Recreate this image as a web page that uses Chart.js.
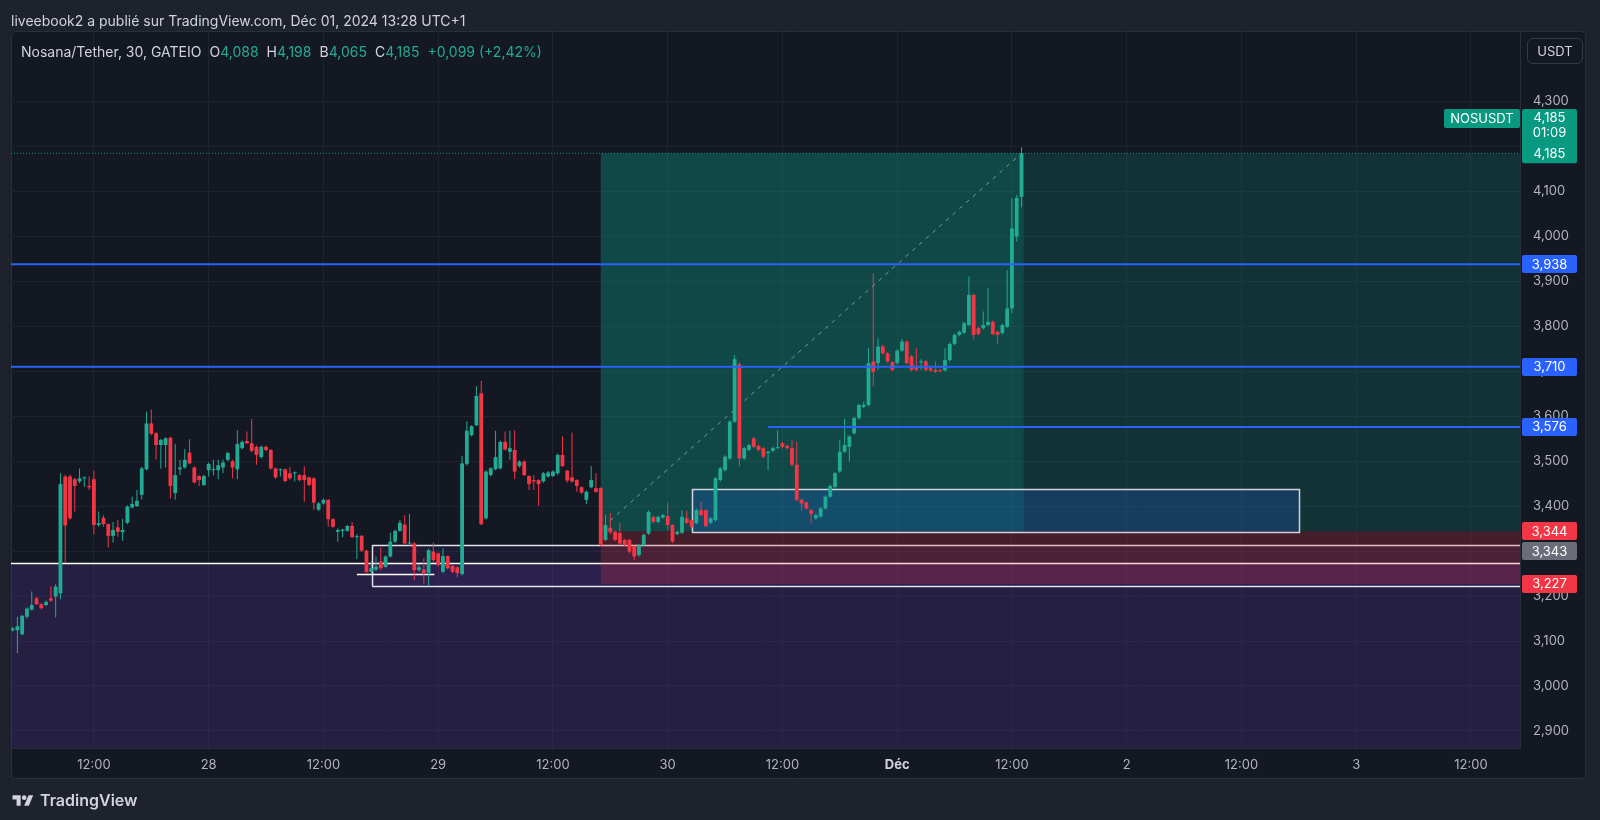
<!DOCTYPE html>
<html lang="fr">
<head>
<meta charset="utf-8">
<title>Nosana/Tether, 30, GATEIO</title>
<script src="https://cdn.jsdelivr.net/npm/chart.js@4.4.1/dist/chart.umd.min.js"></script>
<style>
  html, body { margin: 0; padding: 0; background: #1e222d; }
  body { width: 1600px; height: 820px; position: relative; overflow: hidden;
         font-family: Inter, "Noto Sans", sans-serif; }
  #chart { position: absolute; left: 0; top: 0; }
  .title { position: absolute; left: 11px; top: 12px; font-size: 14px; color: #d1d4dc; white-space: nowrap; }
  .legend { position: absolute; left: 21px; top: 43px; font-size: 14px; color: #d1d4dc; white-space: nowrap; }
  .legend .g { color: #22ab94; }
  .legend .k { margin-left: 8px; }
  .usdt { position: absolute; left: 1527px; top: 38px; width: 56px; height: 26px; box-sizing: border-box;
          border: 1px solid #363a45; border-radius: 6px; color: #d1d4dc; font-size: 13px;
          line-height: 24px; text-align: center; }
  .footer { position: absolute; left: 12px; top: 790px; color: #d1d4dc; font-size: 16px; font-weight: 600;
            display: flex; align-items: center; gap: 6px; }
</style>
</head>
<body>
<canvas id="chart" width="1600" height="820"></canvas>
<div class="title">liveebook2 a publié sur TradingView.com, Déc 01, 2024 13:28 UTC+1</div>
<div class="legend" id="legend"></div>
<div class="usdt">USDT</div>
<div class="footer">
  <svg width="22" height="14" viewBox="0 0 36 24"><path d="M14 22H7V11H0V4h14z" fill="#d1d4dc"/><circle cx="20" cy="8" r="4" fill="#d1d4dc"/><path d="M28 22h-8l7.5-18h8z" fill="#d1d4dc"/></svg>
  <span>TradingView</span>
</div>
<script>
// bougies de 30 min, temps en heures depuis le 27 nov 00:00 (UTC+1)
const START_HOUR = 3.5;

const opens = [
  3.124, 3.124, 3.115, 3.154, 3.170, 3.195, 3.182, 3.180, 3.195, 3.199,
  3.206, 3.466, 3.466, 3.460, 3.455, 3.462, 3.445, 3.460, 3.358, 3.374,
  3.360, 3.334, 3.353, 3.342, 3.363, 3.397, 3.400, 3.425, 3.482, 3.584,
  3.562, 3.536, 3.536, 3.552, 3.429, 3.482, 3.486, 3.519, 3.486, 3.467,
  3.447, 3.480, 3.480, 3.480, 3.486, 3.503, 3.500, 3.482, 3.529, 3.545,
  3.540, 3.532, 3.509, 3.532, 3.525, 3.484, 3.480, 3.482, 3.473, 3.473,
  3.469, 3.469, 3.464, 3.462, 3.392, 3.406, 3.414, 3.371, 3.343, 3.345,
  3.345, 3.356, 3.331, 3.334, 3.301, 3.254, 3.259, 3.277, 3.265, 3.288,
  3.321, 3.345, 3.359, 3.317, 3.317, 3.258, 3.259, 3.252, 3.299, 3.295,
  3.254, 3.289, 3.267, 3.264, 3.249, 3.494, 3.558, 3.580, 3.651, 3.373,
  3.469, 3.482, 3.484, 3.543, 3.521, 3.525, 3.489, 3.499, 3.467, 3.458,
  3.458, 3.455, 3.466, 3.467, 3.473, 3.514, 3.479, 3.464, 3.458, 3.442,
  3.414, 3.442, 3.440, 3.440, 3.325, 3.352, 3.343, 3.340, 3.325, 3.325,
  3.311, 3.291, 3.313, 3.339, 3.376, 3.365, 3.375, 3.378, 3.358, 3.338,
  3.341, 3.373, 3.369, 3.362, 3.391, 3.391, 3.363, 3.369, 3.458, 3.480,
  3.506, 3.588, 3.716, 3.506, 3.525, 3.551, 3.534, 3.529, 3.518, 3.523,
  3.529, 3.540, 3.534, 3.529, 3.492, 3.414, 3.408, 3.391, 3.373, 3.377,
  3.395, 3.421, 3.443, 3.477, 3.521, 3.532, 3.562, 3.596, 3.621, 3.625,
  3.722, 3.718, 3.755, 3.740, 3.720, 3.718, 3.746, 3.766, 3.733, 3.710,
  3.720, 3.722, 3.707, 3.703, 3.702, 3.702, 3.725, 3.761, 3.781, 3.786,
  3.803, 3.870, 3.796, 3.796, 3.803, 3.810, 3.788, 3.785, 3.799, 3.840,
  4.000, 4.088
];
const highs = [
  3.131, 3.154, 3.158, 3.175, 3.210, 3.198, 3.184, 3.190, 3.222, 3.226,
  3.473, 3.470, 3.470, 3.463, 3.484, 3.466, 3.466, 3.479, 3.388, 3.380,
  3.362, 3.365, 3.369, 3.372, 3.402, 3.421, 3.436, 3.487, 3.610, 3.615,
  3.565, 3.550, 3.553, 3.555, 3.538, 3.503, 3.527, 3.549, 3.488, 3.469,
  3.470, 3.497, 3.503, 3.503, 3.504, 3.521, 3.503, 3.569, 3.546, 3.566,
  3.594, 3.535, 3.535, 3.535, 3.527, 3.486, 3.484, 3.484, 3.487, 3.477,
  3.471, 3.489, 3.466, 3.464, 3.409, 3.417, 3.416, 3.373, 3.351, 3.350,
  3.358, 3.365, 3.338, 3.336, 3.303, 3.277, 3.288, 3.308, 3.290, 3.341,
  3.348, 3.369, 3.380, 3.383, 3.320, 3.269, 3.284, 3.306, 3.319, 3.297,
  3.306, 3.291, 3.269, 3.266, 3.512, 3.589, 3.580, 3.667, 3.679, 3.480,
  3.487, 3.568, 3.546, 3.566, 3.568, 3.569, 3.502, 3.502, 3.469, 3.469,
  3.460, 3.476, 3.478, 3.480, 3.517, 3.555, 3.481, 3.564, 3.460, 3.444,
  3.435, 3.489, 3.473, 3.442, 3.380, 3.385, 3.346, 3.362, 3.327, 3.327,
  3.313, 3.316, 3.339, 3.391, 3.379, 3.379, 3.383, 3.408, 3.360, 3.346,
  3.391, 3.390, 3.371, 3.394, 3.410, 3.393, 3.376, 3.465, 3.487, 3.513,
  3.591, 3.736, 3.720, 3.532, 3.539, 3.554, 3.537, 3.532, 3.524, 3.532,
  3.569, 3.543, 3.537, 3.547, 3.543, 3.417, 3.410, 3.394, 3.383, 3.398,
  3.424, 3.448, 3.476, 3.547, 3.595, 3.558, 3.599, 3.628, 3.633, 3.751,
  3.918, 3.773, 3.759, 3.743, 3.723, 3.749, 3.772, 3.769, 3.736, 3.751,
  3.727, 3.725, 3.710, 3.722, 3.704, 3.751, 3.764, 3.784, 3.791, 3.810,
  3.911, 3.873, 3.799, 3.833, 3.885, 3.813, 3.791, 3.806, 3.925, 4.085,
  4.092, 4.198
];
const lows = [
  3.121, 3.073, 3.112, 3.150, 3.168, 3.180, 3.170, 3.178, 3.187, 3.153,
  3.193, 3.274, 3.370, 3.388, 3.451, 3.443, 3.436, 3.338, 3.354, 3.354,
  3.308, 3.319, 3.332, 3.323, 3.360, 3.395, 3.398, 3.415, 3.480, 3.558,
  3.504, 3.484, 3.486, 3.417, 3.414, 3.469, 3.484, 3.493, 3.450, 3.445,
  3.445, 3.466, 3.469, 3.460, 3.473, 3.500, 3.462, 3.460, 3.526, 3.538,
  3.520, 3.492, 3.506, 3.522, 3.481, 3.461, 3.466, 3.453, 3.459, 3.455,
  3.455, 3.410, 3.444, 3.392, 3.389, 3.403, 3.354, 3.352, 3.321, 3.331,
  3.343, 3.329, 3.282, 3.298, 3.251, 3.251, 3.256, 3.258, 3.262, 3.286,
  3.318, 3.343, 3.315, 3.312, 3.236, 3.254, 3.228, 3.222, 3.273, 3.266,
  3.251, 3.259, 3.251, 3.242, 3.246, 3.490, 3.555, 3.578, 3.358, 3.370,
  3.466, 3.480, 3.482, 3.524, 3.503, 3.460, 3.486, 3.467, 3.436, 3.436,
  3.401, 3.452, 3.463, 3.465, 3.470, 3.487, 3.452, 3.452, 3.432, 3.427,
  3.405, 3.440, 3.430, 3.310, 3.322, 3.338, 3.322, 3.314, 3.311, 3.296,
  3.280, 3.288, 3.310, 3.336, 3.362, 3.362, 3.372, 3.347, 3.318, 3.335,
  3.338, 3.360, 3.350, 3.360, 3.378, 3.353, 3.360, 3.366, 3.455, 3.477,
  3.503, 3.585, 3.489, 3.503, 3.522, 3.529, 3.522, 3.507, 3.480, 3.520,
  3.527, 3.529, 3.526, 3.489, 3.411, 3.390, 3.392, 3.362, 3.370, 3.374,
  3.392, 3.418, 3.440, 3.474, 3.518, 3.499, 3.559, 3.593, 3.618, 3.622,
  3.666, 3.703, 3.737, 3.719, 3.700, 3.715, 3.743, 3.715, 3.700, 3.700,
  3.703, 3.700, 3.699, 3.697, 3.698, 3.699, 3.722, 3.758, 3.778, 3.783,
  3.800, 3.771, 3.780, 3.793, 3.800, 3.780, 3.762, 3.782, 3.796, 3.829,
  3.989, 4.065
];
const closes = [
  3.128, 3.133, 3.156, 3.172, 3.180, 3.182, 3.173, 3.187, 3.190, 3.221,
  3.449, 3.357, 3.373, 3.445, 3.462, 3.463, 3.442, 3.358, 3.362, 3.360,
  3.334, 3.347, 3.343, 3.347, 3.399, 3.405, 3.412, 3.484, 3.584, 3.561,
  3.536, 3.547, 3.551, 3.445, 3.469, 3.486, 3.503, 3.495, 3.453, 3.458,
  3.467, 3.494, 3.481, 3.491, 3.497, 3.518, 3.486, 3.538, 3.543, 3.540,
  3.523, 3.514, 3.532, 3.525, 3.484, 3.464, 3.482, 3.456, 3.462, 3.474,
  3.458, 3.458, 3.447, 3.408, 3.406, 3.414, 3.371, 3.354, 3.347, 3.348,
  3.356, 3.331, 3.333, 3.301, 3.254, 3.262, 3.265, 3.262, 3.288, 3.321,
  3.345, 3.363, 3.317, 3.319, 3.258, 3.264, 3.251, 3.302, 3.280, 3.269,
  3.289, 3.262, 3.254, 3.251, 3.495, 3.568, 3.578, 3.645, 3.360, 3.477,
  3.484, 3.509, 3.543, 3.526, 3.529, 3.477, 3.499, 3.469, 3.449, 3.455,
  3.449, 3.473, 3.475, 3.477, 3.514, 3.489, 3.457, 3.455, 3.445, 3.430,
  3.432, 3.458, 3.432, 3.314, 3.358, 3.342, 3.325, 3.317, 3.314, 3.299,
  3.288, 3.313, 3.336, 3.387, 3.365, 3.376, 3.380, 3.358, 3.321, 3.343,
  3.376, 3.363, 3.353, 3.391, 3.380, 3.356, 3.373, 3.462, 3.484, 3.510,
  3.588, 3.727, 3.506, 3.529, 3.536, 3.532, 3.525, 3.510, 3.521, 3.529,
  3.530, 3.532, 3.529, 3.492, 3.414, 3.406, 3.395, 3.383, 3.380, 3.395,
  3.421, 3.445, 3.473, 3.521, 3.536, 3.555, 3.596, 3.625, 3.625, 3.718,
  3.699, 3.755, 3.740, 3.722, 3.703, 3.746, 3.766, 3.718, 3.703, 3.703,
  3.722, 3.703, 3.702, 3.699, 3.701, 3.725, 3.761, 3.781, 3.788, 3.807,
  3.870, 3.781, 3.783, 3.803, 3.810, 3.783, 3.781, 3.803, 3.840, 4.018,
  4.086, 4.185
];

// axes
const X_TICKS = [12, 24, 36, 48, 60, 72, 84, 96, 108, 120, 132, 144, 156];
const X_TICK_LABELS = ['12:00', '28', '12:00', '29', '12:00', '30', '12:00', 'Déc', '12:00', '2', '12:00', '3', '12:00'];
const Y_TICKS = [2.9, 3.0, 3.1, 3.2, 3.3, 3.4, 3.5, 3.6, 3.7, 3.8, 3.9, 4.0, 4.1, 4.2, 4.3];
const X_RANGE = [3.33, 161.13];
const Y_RANGE = [2.862, 4.457];

// dessins (heures / prix)
const BLUE_LEVELS = [3.938, 3.710];
const BLUE_SHORT = [82.5, 3.576];          // départ, niveau
const POSITION = [65, 109.25];             // entrée, barre courante
const TARGET = 4.185, ENTRY = 3.344, STOP = 3.227;
const WHITE_LEVEL = 3.2728;
const WHITE_SEGMENT = [39.5, 47.6, 3.248];
const BOX_A = [41.1, 3.313, 3.2226];       // départ, haut, bas
const BOX_B = [74.5, 138.0, 3.438, 3.343]; // début, fin, haut, bas
const DIAGONAL = [[66, 3.368], [109, 4.185]];
const LABEL_343 = 3.343;

const UP = '#22ab94', DOWN = '#f23645', BLUE = '#2962ff';

const times = opens.map((_, i) => START_HOUR + i * 0.5);
const candleColors = closes.map((c, i) => c >= opens[i] ? UP : DOWN);
const fmt = v => v.toFixed(3).replace('.', ',');

// légende OHLC
(function () {
  const n = closes.length - 1;
  const chg = closes[n] - closes[n - 1];
  const pct = chg / closes[n - 1] * 100;
  const sign = chg >= 0 ? '+' : '-';
  document.getElementById('legend').innerHTML =
    'Nosana/Tether, 30, GATEIO' +
    '<span class="k">O</span><span class="g">' + fmt(opens[n]) + '</span>' +
    '<span class="k">H</span><span class="g">' + fmt(highs[n]) + '</span>' +
    '<span class="k">B</span><span class="g">' + fmt(lows[n]) + '</span>' +
    '<span class="k">C</span><span class="g">' + fmt(closes[n]) + '</span>' +
    '<span class="g k">' + sign + fmt(Math.abs(chg)) + ' (' + sign + pct.toFixed(2).replace('.', ',') + '%)</span>';
})();

function hline(level, from, to, color, width, dash, order) {
  return {
    type: 'line',
    data: [{ x: from, y: level }, { x: to, y: level }],
    borderColor: color,
    borderWidth: width,
    borderDash: dash || [],
    pointRadius: 0,
    fill: false,
    order: order
  };
}

function roundRect(ctx, x, y, w, h, r) {
  ctx.beginPath();
  ctx.moveTo(x + r, y);
  ctx.arcTo(x + w, y, x + w, y + h, r);
  ctx.arcTo(x + w, y + h, x, y + h, r);
  ctx.arcTo(x, y + h, x, y, r);
  ctx.arcTo(x, y, x + w, y, r);
  ctx.closePath();
}

// fond du panneau
const framePlugin = {
  id: 'frame',
  beforeDraw(chart) {
    const ctx = chart.ctx;
    ctx.save();
    ctx.fillStyle = '#1e222d';
    ctx.fillRect(0, 0, chart.width, chart.height);
    roundRect(ctx, 11.5, 31.5, 1574, 747, 4);
    ctx.fillStyle = '#141823';
    ctx.fill();
    ctx.strokeStyle = '#2a2e39';
    ctx.lineWidth = 1;
    ctx.stroke();
    ctx.restore();
  }
};

// zones de la position longue et rectangles
const zonePlugin = {
  id: 'zones',
  beforeDatasetsDraw(chart) {
    const { ctx, chartArea: a, scales: { x, y } } = chart;
    const X = v => x.getPixelForValue(v);
    const Y = v => y.getPixelForValue(v);
    const rect = (x0, x1, p0, p1, fill) => {
      ctx.fillStyle = fill;
      ctx.fillRect(x0, Y(p0), x1 - x0, Y(p1) - Y(p0));
    };
    const seg = (x0, x1, p, color, w) => {
      ctx.beginPath();
      ctx.moveTo(x0, Math.round(Y(p)) + 0.5);
      ctx.lineTo(x1, Math.round(Y(p)) + 0.5);
      ctx.strokeStyle = color;
      ctx.lineWidth = w;
      ctx.stroke();
    };
    ctx.save();
    ctx.beginPath();
    ctx.rect(a.left, a.top, a.width, a.height);
    ctx.clip();

    // zone violette sous la ligne blanche
    rect(a.left, a.right, WHITE_LEVEL, Y_RANGE[0], 'rgba(103, 58, 183, 0.2)');

    // objectif (vert)
    rect(X(POSITION[0]), X(POSITION[1]), TARGET, ENTRY, 'rgba(8, 153, 129, 0.38)');
    rect(X(POSITION[1]), a.right, TARGET, ENTRY, 'rgba(8, 153, 129, 0.2)');

    // rectangle A + lignes blanches
    const ax = X(BOX_A[0]);
    rect(ax, a.right, BOX_A[1], BOX_A[2], 'rgba(103, 58, 183, 0.1)');
    seg(a.left, a.right, WHITE_LEVEL, '#ffffff', 1.5);
    seg(X(WHITE_SEGMENT[0]), X(WHITE_SEGMENT[1]), WHITE_SEGMENT[2], '#ffffff', 1.5);
    seg(ax, a.right, BOX_A[1], '#e0e3eb', 1.5);
    seg(ax, a.right, BOX_A[2], '#e0e3eb', 1.5);
    ctx.beginPath();
    ctx.moveTo(Math.round(ax) + 0.5, Y(BOX_A[1]));
    ctx.lineTo(Math.round(ax) + 0.5, Y(BOX_A[2]));
    ctx.strokeStyle = '#e0e3eb';
    ctx.lineWidth = 1.5;
    ctx.stroke();

    // stop (rouge)
    rect(X(POSITION[0]), a.right, ENTRY, STOP, 'rgba(242, 54, 69, 0.22)');

    // rectangle B
    const bx0 = X(BOX_B[0]), bx1 = X(BOX_B[1]);
    rect(bx0, bx1, BOX_B[2], BOX_B[3], 'rgba(41, 98, 255, 0.2)');
    ctx.strokeStyle = '#d1d4dc';
    ctx.lineWidth = 1.5;
    ctx.strokeRect(Math.round(bx0) + 0.5, Math.round(Y(BOX_B[2])) + 0.5,
                   Math.round(bx1 - bx0), Math.round(Y(BOX_B[3]) - Y(BOX_B[2])));
    ctx.restore();
  }
};

// étiquettes de prix sur l'axe
const tagPlugin = {
  id: 'tags',
  afterDraw(chart) {
    const { ctx, scales: { y } } = chart;
    const tag = (cy, text, bg) => {
      ctx.fillStyle = bg;
      roundRect(ctx, 1522, Math.round(cy) - 9, 55, 18, 2);
      ctx.fill();
      ctx.fillStyle = '#ffffff';
      ctx.fillText(text, 1549.5, cy + 0.5);
    };
    ctx.save();
    ctx.font = '13px Inter, "Noto Sans", sans-serif';
    ctx.textAlign = 'center';
    ctx.textBaseline = 'middle';

    BLUE_LEVELS.concat([BLUE_SHORT[1]]).forEach(v => tag(y.getPixelForValue(v), fmt(v), BLUE));
    tag(y.getPixelForValue(ENTRY), fmt(ENTRY), DOWN);
    tag(y.getPixelForValue(ENTRY) + 20, fmt(LABEL_343), '#6a6d78');
    tag(y.getPixelForValue(STOP), fmt(STOP), DOWN);

    // prix courant + compte à rebours
    const last = closes[closes.length - 1];
    const py = y.getPixelForValue(last);
    ctx.fillStyle = '#089981';
    roundRect(ctx, 1522, 109, 55, py + 10 - 109, 2);
    ctx.fill();
    roundRect(ctx, 1444, 109, 76, 19, 2);
    ctx.fill();
    ctx.fillStyle = '#ffffff';
    ctx.fillText(fmt(last), 1549.5, 118.5);
    ctx.fillText('01:09', 1549.5, 133.5);
    ctx.fillText(fmt(last), 1549.5, py + 0.5);
    ctx.fillText('NOSUSDT', 1482, 119);
    ctx.restore();
  }
};

const datasets = [
  // lignes horizontales
  ...BLUE_LEVELS.map(v => hline(v, X_RANGE[0], X_RANGE[1], BLUE, 2, null, 0)),
  hline(BLUE_SHORT[1], BLUE_SHORT[0], X_RANGE[1], BLUE, 2, null, 0),
  hline(closes[closes.length - 1], X_RANGE[0], X_RANGE[1], '#089981', 1, [1, 2], 5),
  {
    type: 'line',
    data: DIAGONAL.map(p => ({ x: p[0], y: p[1] })),
    borderColor: 'rgba(200, 200, 205, 0.6)',
    borderWidth: 1,
    borderDash: [4, 5],
    pointRadius: 0,
    order: 4
  },
  // corps
  {
    type: 'bar',
    data: times.map((t, i) => ({ x: t, y: [opens[i], closes[i]] })),
    backgroundColor: candleColors,
    grouped: false,
    categoryPercentage: 1,
    barPercentage: 1,
    maxBarThickness: 3.8,
    minBarLength: 1,
    inflateAmount: 0,
    order: 1
  },
  // mèches
  {
    type: 'bar',
    data: times.map((t, i) => ({ x: t, y: [lows[i], highs[i]] })),
    backgroundColor: candleColors,
    grouped: false,
    categoryPercentage: 1,
    barPercentage: 1,
    maxBarThickness: 1,
    inflateAmount: 0,
    order: 2
  }
];

Chart.defaults.font.family = 'Inter, "Noto Sans", sans-serif';

new Chart(document.getElementById('chart'), {
  type: 'bar',
  data: { datasets: datasets },
  plugins: [framePlugin, zonePlugin, tagPlugin],
  options: {
    responsive: false,
    animation: false,
    events: [],
    layout: { padding: { left: 11, top: 31, right: 14, bottom: 41 } },
    plugins: {
      legend: { display: false },
      tooltip: { enabled: false }
    },
    scales: {
      x: {
        type: 'linear',
        min: X_RANGE[0],
        max: X_RANGE[1],
        offset: false,
        afterBuildTicks: axis => { axis.ticks = X_TICKS.map(v => ({ value: v })); },
        afterFit: axis => { axis.height = 31; },
        grid: { color: '#1f2330', offset: false, drawTicks: false },
        border: { display: true, color: '#2a2e39' },
        ticks: {
          autoSkip: false,
          maxRotation: 0,
          padding: 9,
          callback: (v, i) => X_TICK_LABELS[i],
          color: ctx => X_TICK_LABELS[ctx.index] === 'Déc' ? '#d1d4dc' : '#b2b5be',
          font: ctx => ({ size: 13, weight: X_TICK_LABELS[ctx.index] === 'Déc' ? 'bold' : 'normal' })
        }
      },
      y: {
        type: 'linear',
        position: 'right',
        min: Y_RANGE[0],
        max: Y_RANGE[1],
        beginAtZero: false,
        afterBuildTicks: axis => { axis.ticks = Y_TICKS.map(v => ({ value: v })); },
        afterFit: axis => { axis.width = 66; },
        grid: { color: '#1f2330', drawTicks: false },
        border: { display: true, color: '#2a2e39' },
        ticks: {
          padding: 13,
          color: '#b2b5be',
          font: { size: 13 },
          callback: v => fmt(v)
        }
      }
    }
  }
});
</script>
</body>
</html>
